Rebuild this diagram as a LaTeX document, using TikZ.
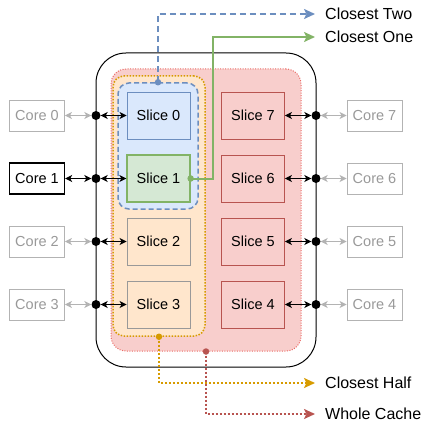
\documentclass[tikz,border=0pt]{standalone}
\usepackage{fontspec}
\setmainfont{Liberation Sans}
\usetikzlibrary{arrows.meta}
\definecolor{bfill}{HTML}{DAE8FC}\definecolor{bline}{HTML}{6C8EBF}
\definecolor{gfill}{HTML}{D5E8D4}\definecolor{gline}{HTML}{82B366}
\definecolor{ofill}{HTML}{FFE6CC}\definecolor{oline}{HTML}{D79B00}
\definecolor{rfill}{HTML}{F8CECC}\definecolor{rline}{HTML}{B85450}
\definecolor{rdot}{HTML}{EA6B66}
\definecolor{gbox}{HTML}{B3B3B3}\definecolor{gtext}{HTML}{999999}
\definecolor{sgray}{HTML}{999999}
\begin{document}
\begin{tikzpicture}[x=1pt,y=-1pt,
  every node/.style={font=\fontsize{14.5}{17}\selectfont},
  slicebox/.style={draw,rectangle,minimum width=63pt,minimum height=47pt,inner sep=0pt,line width=0.9pt},
  corebox/.style={draw=gbox,rectangle,minimum width=55pt,minimum height=31pt,inner sep=0pt,text=gtext,line width=0.9pt},
  jdot/.style={circle,fill=black,inner sep=0pt,minimum size=9pt},
  sdot/.style={circle,inner sep=0pt,minimum size=6.5pt},
  lbl/.style={anchor=west,inner sep=0pt,font=\fontsize{16}{19}\selectfont},
  barrow/.style={draw=black,line width=1pt,{Stealth[length=7pt,width=7pt,inset=2pt]}-{Stealth[length=7pt,width=7pt,inset=2pt]}},
  garrow/.style={draw=gbox,line width=1pt,{Stealth[length=7pt,width=7pt,inset=2pt]}-{Stealth[length=7pt,width=7pt,inset=2pt]}},
  bigtip/.style={-{Stealth[length=11pt,width=10pt,inset=2.5pt]},shorten >=10pt,line width=2pt}
]
\useasboundingbox (0,0) rectangle (424,425);
% outer package
\node[draw=black,line width=1pt,rounded corners=30pt,minimum width=220pt,minimum height=314pt,inner sep=0pt] (outer) at (206,210) {};
% regions
\node[draw=rdot,fill=rfill,dash pattern=on 1pt off 1.5pt,line width=1pt,rounded corners=15pt,minimum width=190pt,minimum height=282pt,inner sep=0pt] (whole) at (206,210) {};
\node[draw=oline,fill=ofill,dash pattern=on 1.5pt off 1.5pt,line width=1.5pt,rounded corners=11pt,minimum width=92pt,minimum height=260pt,inner sep=0pt] (half) at (159,206) {};
\node[draw=bline,fill=bfill,dash pattern=on 5pt off 3pt,line width=1.5pt,rounded corners=11pt,minimum width=80pt,minimum height=126pt,inner sep=0pt] (two) at (158,146) {};
% slices
\node[slicebox,draw=bline,fill=bfill] (s0) at (158.5,115.5) {Slice 0};
\node[slicebox,draw=gline,fill=gfill,line width=1.3pt] (s1) at (158.5,178.5) {Slice 1};
\node[slicebox,draw=sgray,fill=ofill] (s2) at (158.5,241.5) {Slice 2};
\node[slicebox,draw=sgray,fill=ofill] (s3) at (158.5,304.5) {Slice 3};
\node[slicebox,draw=rline,fill=rfill] (s7) at (253,115.5) {Slice 7};
\node[slicebox,draw=rline,fill=rfill] (s6) at (253,178.5) {Slice 6};
\node[slicebox,draw=rline,fill=rfill] (s5) at (253,241.5) {Slice 5};
\node[slicebox,draw=rline,fill=rfill] (s4) at (253,304.5) {Slice 4};
% cores
\node[corebox] (c0) at (37,115.5) {Core 0};
\node[corebox,draw=black,text=black,line width=1.4pt] (c1) at (37,178.5) {Core 1};
\node[corebox] (c2) at (37,241.5) {Core 2};
\node[corebox] (c3) at (37,304.5) {Core 3};
\node[corebox] (c7) at (374.5,115.5) {Core 7};
\node[corebox] (c6) at (374.5,178.5) {Core 6};
\node[corebox] (c5) at (374.5,241.5) {Core 5};
\node[corebox] (c4) at (374.5,304.5) {Core 4};
% junction dots
\node[jdot] (d0) at (96,115.5) {};
\node[jdot] (d1) at (96,178.5) {};
\node[jdot] (d2) at (96,241.5) {};
\node[jdot] (d3) at (96,304.5) {};
\node[jdot] (d7) at (316,115.5) {};
\node[jdot] (d6) at (316,178.5) {};
\node[jdot] (d5) at (316,241.5) {};
\node[jdot] (d4) at (316,304.5) {};
% core-dot links
\draw[garrow] (c0) -- (d0);
\draw[barrow] (c1) -- (d1);
\draw[garrow] (c2) -- (d2);
\draw[garrow] (c3) -- (d3);
\draw[garrow] (c7) -- (d7);
\draw[garrow] (c6) -- (d6);
\draw[garrow] (c5) -- (d5);
\draw[garrow] (c4) -- (d4);
% dot-slice links
\draw[barrow] (d0) -- (s0);
\draw[barrow] (d1) -- (s1);
\draw[barrow] (d2) -- (s2);
\draw[barrow] (d3) -- (s3);
\draw[barrow] (d7) -- (s7);
\draw[barrow] (d6) -- (s6);
\draw[barrow] (d5) -- (s5);
\draw[barrow] (d4) -- (s4);
% labels
\node[lbl] (ltwo) at (325,14) {Closest Two};
\node[lbl] (lone) at (325,37) {Closest One};
\node[lbl] (lhalf) at (325,383) {Closest Half};
\node[lbl] (lwhole) at (325,414) {Whole Cache};
% scope connectors
\draw[bigtip,draw=bline,dash pattern=on 6pt off 4pt] (two.north) |- (ltwo.west);
\node[sdot,fill=bline] at (two.north) {};
\draw[bigtip,draw=gline] (s1.east) -- ++(22,0) |- (lone.west);
\node[sdot,fill=gline] at (s1.east) {};
\draw[bigtip,draw=oline,dash pattern=on 2pt off 2pt] (half.south) |- (lhalf.west);
\node[sdot,fill=oline] at (half.south) {};
\draw[bigtip,draw=rline,dash pattern=on 2pt off 2pt] (whole.south) |- (lwhole.west);
\node[sdot,fill=rline] at (whole.south) {};
\end{tikzpicture}
\end{document}
